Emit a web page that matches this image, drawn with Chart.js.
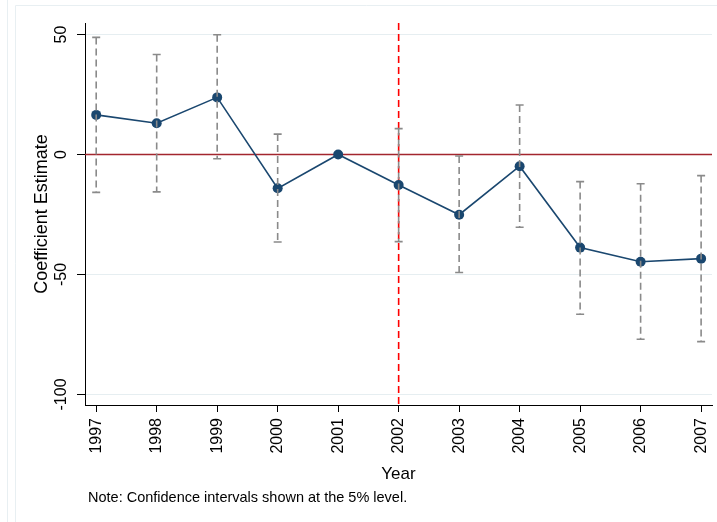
<!DOCTYPE html>
<html>
<head>
<meta charset="utf-8">
<script src="https://cdn.jsdelivr.net/npm/chart.js@4/dist/chart.umd.min.js"></script>
<style>
  html, body { margin: 0; padding: 0; background: #fff; }
  canvas { display: block; }
</style>
</head>
<body>
<canvas id="c" width="717" height="522"></canvas>
<script>
// Event-study coefficients by year, with 95% confidence bounds (base year 2001 has none)
const years = [1997, 1998, 1999, 2000, 2001, 2002, 2003, 2004, 2005, 2006, 2007];
const estimates = [16.5, 13.0, 23.8, -14.1, 0, -12.7, -25.1, -4.9, -38.8, -44.7, -43.4];
const ciLower = [-15.8, -15.6, -1.8, -36.5, null, -36.3, -49.2, -30.3, -66.6, -77.0, -78.0];
const ciUpper = [48.8, 41.7, 49.9, 8.5, null, 10.8, -0.6, 20.6, -11.3, -12.2, -8.8];
const yTicks = [50, 0, -50, -100];
const policyYear = 2002;
const noteText = 'Note: Confidence intervals shown at the 5% level.';

const FONT = '"Liberation Sans", Arial, Helvetica, sans-serif';

// Faint outer frame of the graph region
const framePlugin = {
  id: 'frame',
  beforeDraw(chart) {
    const ctx = chart.ctx;
    ctx.save();
    ctx.fillStyle = '#ffffff';
    ctx.fillRect(0, 0, chart.width, chart.height);
    ctx.strokeStyle = '#e8eff2';
    ctx.lineWidth = 1;
    ctx.beginPath();
    ctx.moveTo(7.5, 0); ctx.lineTo(7.5, chart.height);
    ctx.moveTo(15.5, chart.height); ctx.lineTo(15.5, 5.5); ctx.lineTo(chart.width, 5.5);
    ctx.stroke();
    ctx.restore();
  }
};

// Zero line and dashed marker for the policy year
const refLines = {
  id: 'refLines',
  beforeDatasetsDraw(chart) {
    const { ctx, chartArea: a, scales: { x, y } } = chart;
    ctx.save();
    const y0 = y.getPixelForValue(0);
    ctx.strokeStyle = '#a3262e';
    ctx.lineWidth = 1.6;
    ctx.beginPath(); ctx.moveTo(a.left, y0); ctx.lineTo(a.right, y0); ctx.stroke();
    const xp = x.getPixelForValue(policyYear);
    ctx.strokeStyle = '#ff0000';
    ctx.setLineDash([7, 4]);
    ctx.beginPath(); ctx.moveTo(xp, a.top); ctx.lineTo(xp, a.bottom); ctx.stroke();
    ctx.restore();
  }
};

// Dashed confidence-interval whiskers with solid caps
const errorBars = {
  id: 'errorBars',
  afterDatasetsDraw(chart) {
    const { ctx, scales: { x, y } } = chart;
    ctx.save();
    ctx.strokeStyle = '#8a8a8a';
    ctx.lineWidth = 1.6;
    years.forEach((yr, i) => {
      if (ciLower[i] === null) return;
      const px = x.getPixelForValue(yr);
      const top = y.getPixelForValue(ciUpper[i]);
      const bot = y.getPixelForValue(ciLower[i]);
      ctx.setLineDash([7, 4]);
      ctx.beginPath(); ctx.moveTo(px, top); ctx.lineTo(px, bot); ctx.stroke();
      ctx.setLineDash([]);
      ctx.beginPath();
      ctx.moveTo(px - 4, top); ctx.lineTo(px + 4, top);
      ctx.moveTo(px - 4, bot); ctx.lineTo(px + 4, bot);
      ctx.stroke();
    });
    ctx.restore();
  }
};

// Rotated y tick labels and the footnote
const textPlugin = {
  id: 'texts',
  afterDraw(chart) {
    const { ctx, scales: { y } } = chart;
    ctx.save();
    ctx.fillStyle = '#000';
    ctx.font = '16px ' + FONT;
    ctx.textAlign = 'center';
    ctx.textBaseline = 'middle';
    yTicks.forEach(v => {
      ctx.save();
      ctx.translate(62, y.getPixelForValue(v));
      ctx.rotate(-Math.PI / 2);
      ctx.fillText(String(v), 0, 0);
      ctx.restore();
    });
    ctx.font = '14.5px ' + FONT;
    ctx.textAlign = 'left';
    ctx.textBaseline = 'alphabetic';
    ctx.fillText(noteText, 88, 502);
    ctx.restore();
  }
};

new Chart(document.getElementById('c'), {
  type: 'line',
  data: {
    datasets: [{
      data: years.map((yr, i) => ({ x: yr, y: estimates[i] })),
      borderColor: '#1a476f',
      borderWidth: 1.6,
      pointRadius: 5,
      pointBackgroundColor: '#1a476f',
      pointBorderColor: '#1a476f',
      pointBorderWidth: 0,
      tension: 0
    }]
  },
  options: {
    responsive: false,
    animation: false,
    devicePixelRatio: 1,
    layout: { padding: { left: 0, top: 23, right: 5, bottom: 0 } },
    plugins: { legend: { display: false }, tooltip: { enabled: false } },
    scales: {
      x: {
        type: 'linear',
        min: 1996.815,
        max: 2007.18,
        afterBuildTicks: s => { s.ticks = years.map(v => ({ value: v })); },
        afterFit: s => { s.height = 117; s.paddingLeft = 0; s.paddingRight = 0; },
        ticks: {
          minRotation: 90, maxRotation: 90, autoSkip: false,
          color: '#000', padding: 6,
          font: { family: FONT, size: 16 },
          callback: v => String(v)
        },
        grid: { drawOnChartArea: false, tickColor: '#000', tickLength: 7, tickWidth: 1 },
        border: { color: '#000', width: 1 },
        title: {
          display: true, text: 'Year', color: '#000',
          font: { family: FONT, size: 17 },
          padding: { top: 0, bottom: 37.8 }
        }
      },
      y: {
        type: 'linear',
        min: -104.4,
        max: 54.8,
        afterBuildTicks: s => { s.ticks = yTicks.map(v => ({ value: v })); },
        afterFit: s => { s.width = 85; s.paddingTop = 0; s.paddingBottom = 0; },
        ticks: { display: false },
        grid: { color: '#e6eef1', lineWidth: 1, tickColor: '#000', tickLength: 8, drawTicks: true },
        border: { color: '#000', width: 1 },
        title: {
          display: true, text: 'Coefficient Estimate', color: '#000',
          font: { family: FONT, size: 18 },
          padding: { top: 31.2, bottom: 0 }
        }
      }
    }
  },
  plugins: [framePlugin, refLines, errorBars, textPlugin]
});
</script>
</body>
</html>
